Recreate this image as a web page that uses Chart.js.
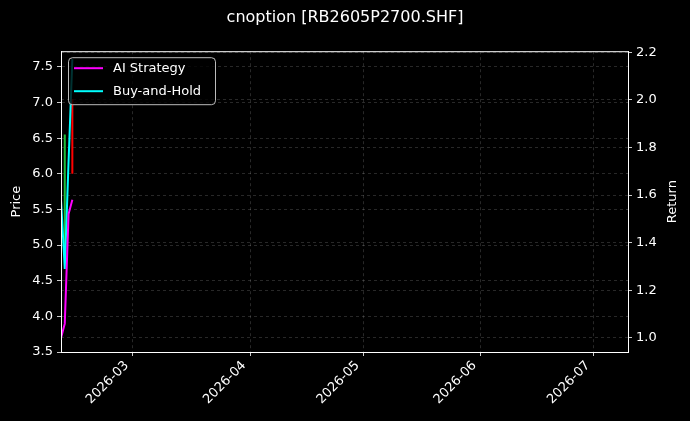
<!DOCTYPE html>
<html lang="en">
<head>
  <meta charset="UTF-8">
  <title>cnoption [RB2605P2700.SHF]</title>
  <script src="https://cdn.jsdelivr.net/npm/chart.js"></script>
  <style>
    html, body {
      margin: 0;
      padding: 0;
      background-color: #000;
    }
    #wrap {
      width: 690px;
      height: 421px;
      position: relative;
    }
  </style>
</head>
<body>
  <div id="wrap"><canvas id="chart"></canvas></div>

  <script>
    // day 0 = 2026-02-10
    const days = [0, 1, 2, 3];
    const aiStrategy = [1.00, 1.06, 1.52, 1.58];
    const buyAndHold = [1.58, 1.29, 1.74, 2.17];

    // price bars (low / high of each day)
    const candleDays = [0, 1, 3];
    const candleLow = [3.5, 4.9, 6.0];
    const candleHigh = [4.45, 6.55, 7.05];
    const candleUp = [false, true, false];

    const xTicks = [19, 50, 80, 111, 141];
    const xTickLabels = ['2026-03', '2026-04', '2026-05', '2026-06', '2026-07'];
    const priceTicks = [3.5, 4.0, 4.5, 5.0, 5.5, 6.0, 6.5, 7.0, 7.5];
    const returnTicks = [1.0, 1.2, 1.4, 1.6, 1.8, 2.0, 2.2];

    const FONT = 'DejaVu Sans';
    const gridColor = 'rgba(255,255,255,0.2)';

    const datasets = [
      {
        label: 'AI Strategy',
        data: days.map((d, i) => ({ x: d, y: aiStrategy[i] })),
        borderColor: '#ff00ff',
        yAxisID: 'y2',
      },
      {
        label: 'Buy-and-Hold',
        data: days.map((d, i) => ({ x: d, y: buyAndHold[i] })),
        borderColor: '#00ffff',
        yAxisID: 'y2',
      },
    ];
    candleDays.forEach((d, i) => {
      datasets.push({
        label: 'price',
        data: [{ x: d, y: candleLow[i] }, { x: d, y: candleHigh[i] }],
        borderColor: candleUp[i] ? '#1fbf3a' : '#ff0000',
        yAxisID: 'y',
      });
    });
    datasets.forEach(ds => {
      ds.borderWidth = 2;
      ds.pointRadius = 0;
      ds.tension = 0;
      ds.fill = false;
    });

    // box round the plot (top side too) and the right axis label, read upwards
    const framePlugin = {
      id: 'frame',
      afterDraw(chart) {
        const { ctx, chartArea: a } = chart;
        ctx.save();
        ctx.strokeStyle = '#fff';
        ctx.lineWidth = 1;
        ctx.strokeRect(a.left + 0.5, a.top + 0.5, a.right - a.left, a.bottom - a.top);
        ctx.translate(673, (a.top + a.bottom) / 2);
        ctx.rotate(-Math.PI / 2);
        ctx.font = '13px "' + FONT + '"';
        ctx.fillStyle = '#fff';
        ctx.textAlign = 'center';
        ctx.textBaseline = 'middle';
        ctx.fillText('Return', 0, 0);
        ctx.restore();
      }
    };

    // legend inside the plot, top left
    const legendBox = {
      id: 'legendBox',
      afterDraw(chart) {
        const { ctx, chartArea: a } = chart;
        const items = chart.data.datasets.slice(0, 2);
        const x = a.left + 7, y = a.top + 6, w = 147, h = 47;
        ctx.save();
        ctx.beginPath();
        ctx.roundRect(x + 0.5, y + 0.5, w, h, 4);
        ctx.fillStyle = 'rgba(0,0,0,0.8)';
        ctx.fill();
        ctx.strokeStyle = 'rgba(220,220,220,0.85)';
        ctx.lineWidth = 1;
        ctx.stroke();
        ctx.font = '13px "' + FONT + '"';
        ctx.textBaseline = 'middle';
        items.forEach((ds, i) => {
          const cy = y + 11 + i * 23;
          ctx.strokeStyle = ds.borderColor;
          ctx.lineWidth = 2;
          ctx.beginPath();
          ctx.moveTo(x + 6, cy);
          ctx.lineTo(x + 35, cy);
          ctx.stroke();
          ctx.fillStyle = '#fff';
          ctx.fillText(ds.label, x + 45, cy);
        });
        ctx.restore();
      }
    };

    new Chart(document.getElementById('chart'), {
      type: 'line',
      data: { datasets },
      plugins: [framePlugin, legendBox],
      options: {
        responsive: true,
        maintainAspectRatio: false,
        animation: false,
        layout: { padding: 0 },
        plugins: {
          legend: { display: false },
          tooltip: { enabled: false },
          title: {
            display: true,
            text: 'cnoption [RB2605P2700.SHF]',
            color: '#fff',
            font: { family: FONT, size: 16, weight: 'normal' },
            padding: { top: 8, bottom: 24 },
          },
        },
        scales: {
          x: {
            type: 'linear',
            min: 0,
            max: 150,
            afterBuildTicks: s => { s.ticks = xTicks.map(v => ({ value: v })); },
            afterFit: s => { s.height = 69; },
            ticks: {
              color: '#fff',
              font: { family: FONT, size: 13 },
              minRotation: 45,
              maxRotation: 45,
              autoSkip: false,
              padding: 2,
              labelOffset: -6,
              callback: v => xTickLabels[xTicks.indexOf(v)],
            },
            grid: { color: gridColor, lineWidth: 0.8, tickColor: '#fff', tickLength: 4 },
            border: { color: '#fff', dash: [3, 3] },
          },
          y: {
            position: 'left',
            min: 3.5,
            max: 7.72,
            afterBuildTicks: s => { s.ticks = priceTicks.map(v => ({ value: v })); },
            afterFit: s => { s.width = 61; },
            ticks: {
              color: '#fff',
              font: { family: FONT, size: 13 },
              padding: 4,
              callback: v => v.toFixed(1),
            },
            title: {
              display: true,
              text: 'Price',
              color: '#fff',
              font: { family: FONT, size: 13 },
              padding: { top: 9, bottom: 0 },
            },
            grid: { color: gridColor, lineWidth: 0.8, tickColor: '#fff', tickLength: 4 },
            border: { color: '#fff', dash: [3, 3] },
          },
          y2: {
            position: 'right',
            min: 0.941,
            max: 2.204,
            afterBuildTicks: s => { s.ticks = returnTicks.map(v => ({ value: v })); },
            afterFit: s => { s.width = 62; },
            ticks: {
              color: '#fff',
              font: { family: FONT, size: 13 },
              padding: 4,
              callback: v => v.toFixed(1),
            },
            grid: { color: gridColor, lineWidth: 0.8, tickColor: '#fff', tickLength: 4 },
            border: { color: '#fff', dash: [3, 3] },
          },
        },
      },
    });
  </script>
</body>
</html>
